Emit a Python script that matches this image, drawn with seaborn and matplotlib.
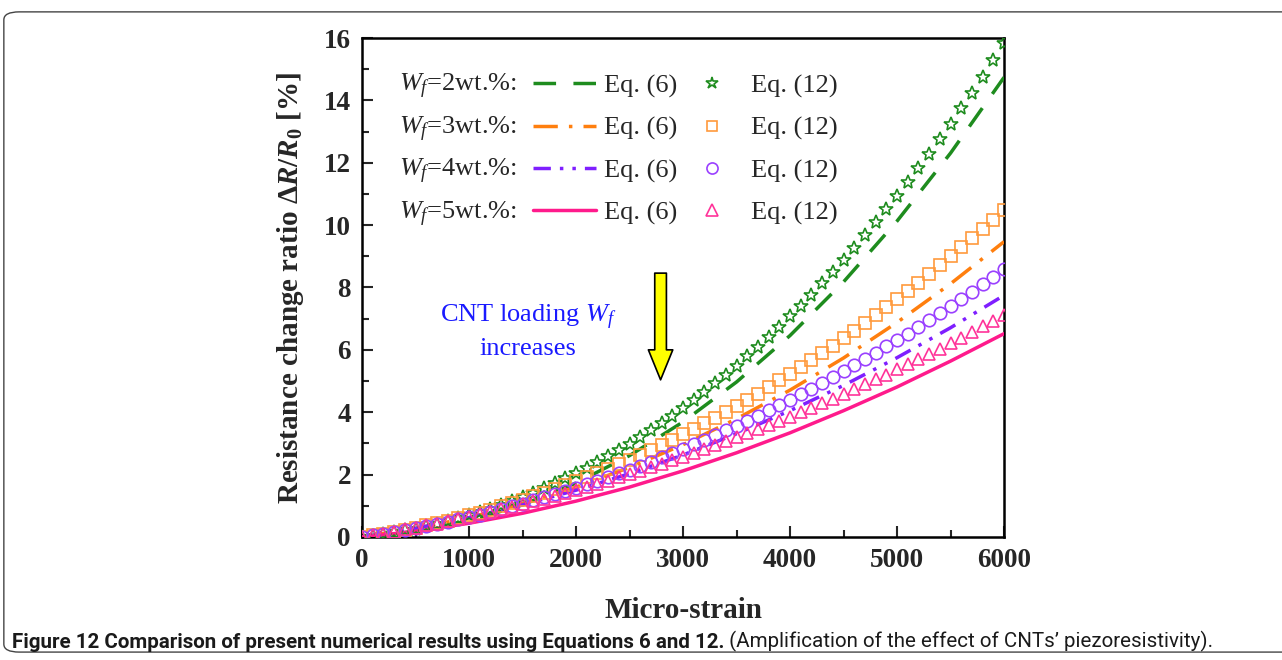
import numpy as np
import pandas as pd
import seaborn as sns
import matplotlib.pyplot as plt
from matplotlib.lines import Line2D
from matplotlib.patches import FancyBboxPatch

# strain axis (micro-strain)
strain_mk = list(range(0, 6001, 100))    # marker positions, Eq. (12)
strain_ln = list(range(0, 6001, 500))    # line points, Eq. (6)

# Eq. (6) curves, read at every 500 micro-strain
eq6_w2 = [0, 0.18, 0.52, 1.03, 1.73, 2.61, 3.69, 4.97, 6.46, 8.18, 10.13, 12.31, 14.74]
eq6_w3 = [0, 0.27, 0.62, 1.07, 1.60, 2.23, 2.96, 3.79, 4.71, 5.74, 6.88, 8.12, 9.47]
eq6_w4 = [0, 0.28, 0.62, 1.03, 1.50, 2.03, 2.63, 3.31, 4.05, 4.86, 5.75, 6.71, 7.75]
eq6_w5 = [0, 0.18, 0.44, 0.76, 1.15, 1.60, 2.12, 2.70, 3.34, 4.05, 4.81, 5.64, 6.52]

# Eq. (12) points, read at every 100 micro-strain
eq12_w2 = [0, 0.04, 0.09, 0.15, 0.21, 0.27, 0.34, 0.42, 0.51, 0.60,
           0.70, 0.80, 0.91, 1.03, 1.15, 1.28, 1.42, 1.57, 1.72, 1.88,
           2.04, 2.22, 2.40, 2.59, 2.79, 2.99, 3.21, 3.43, 3.66, 3.89,
           4.14, 4.39, 4.66, 4.93, 5.21, 5.49, 5.79, 6.10, 6.41, 6.74,
           7.07, 7.42, 7.77, 8.13, 8.50, 8.88, 9.27, 9.67, 10.09, 10.51,
           10.94, 11.38, 11.83, 12.29, 12.77, 13.25, 13.74, 14.25, 14.76, 15.29,
           15.83]
eq12_w3 = [0, 0.05, 0.11, 0.17, 0.23, 0.30, 0.37, 0.44, 0.52, 0.61,
           0.69, 0.78, 0.88, 0.98, 1.08, 1.19, 1.30, 1.41, 1.53, 1.66,
           1.78, 1.92, 2.05, 2.19, 2.34, 2.48, 2.64, 2.79, 2.96, 3.12,
           3.29, 3.47, 3.64, 3.83, 4.01, 4.21, 4.40, 4.60, 4.81, 5.02,
           5.23, 5.45, 5.67, 5.90, 6.13, 6.37, 6.61, 6.86, 7.11, 7.36,
           7.63, 7.89, 8.16, 8.43, 8.71, 9.00, 9.29, 9.58, 9.88, 10.18,
           10.49]
eq12_w4 = [0, 0.05, 0.11, 0.16, 0.22, 0.29, 0.35, 0.42, 0.49, 0.57,
           0.64, 0.72, 0.81, 0.89, 0.98, 1.07, 1.17, 1.27, 1.37, 1.47,
           1.58, 1.69, 1.80, 1.92, 2.04, 2.16, 2.29, 2.42, 2.55, 2.69,
           2.83, 2.97, 3.12, 3.26, 3.42, 3.57, 3.73, 3.89, 4.06, 4.23,
           4.40, 4.58, 4.75, 4.94, 5.12, 5.31, 5.51, 5.70, 5.90, 6.11,
           6.31, 6.52, 6.74, 6.95, 7.18, 7.40, 7.63, 7.86, 8.10, 8.34,
           8.58]
eq12_w5 = [0, 0.06, 0.11, 0.17, 0.24, 0.30, 0.37, 0.43, 0.50, 0.58,
           0.65, 0.73, 0.81, 0.89, 0.97, 1.05, 1.14, 1.23, 1.32, 1.41,
           1.51, 1.61, 1.70, 1.81, 1.91, 2.02, 2.12, 2.23, 2.35, 2.46,
           2.58, 2.70, 2.82, 2.94, 3.07, 3.19, 3.32, 3.45, 3.59, 3.73,
           3.86, 4.00, 4.15, 4.29, 4.44, 4.59, 4.74, 4.90, 5.05, 5.21,
           5.38, 5.54, 5.70, 5.87, 6.04, 6.22, 6.39, 6.57, 6.75, 6.93,
           7.12]

wt_labels = ["2wt.%", "3wt.%", "4wt.%", "5wt.%"]

sns.set_theme(style="ticks")
plt.rcParams['font.family'] = ['Liberation Serif', 'DejaVu Serif']
plt.rcParams['mathtext.fontset'] = 'custom'
plt.rcParams['mathtext.rm'] = 'Liberation Serif'
plt.rcParams['mathtext.it'] = 'Liberation Serif:italic'
plt.rcParams['mathtext.bf'] = 'Liberation Serif:bold'
plt.rcParams['mathtext.bfit'] = 'Liberation Serif:bold:italic'

fig = plt.figure(figsize=(12.82, 6.6), dpi=100)
ax = fig.add_axes([0.2824, 0.1864, 0.5008, 0.756])

line_cols = ['#1e8c1e', '#ff7f0e', '#7f1fff', '#ff1a8c']
mark_cols = ['#1e8c1e', '#ff9a3c', '#9a40ff', '#ff3399']
line_ls = [(0, (6.5, 5)), (0, (7, 3.2, 1, 3.2)), (0, (5, 2.6, 1, 2.6, 1, 2.6)), '-']
marks = ['*', 's', 'o', '^']
msizes = [10, 8, 9, 9]
eq6 = [eq6_w2, eq6_w3, eq6_w4, eq6_w5]
eq12 = [eq12_w2, eq12_w3, eq12_w4, eq12_w5]

for i in range(4):
    sns.lineplot(x=strain_ln, y=eq6[i], ax=ax, color=line_cols[i], linestyle=line_ls[i],
                 linewidth=2.5, zorder=3)
    ax.plot(strain_mk, eq12[i], linestyle='none', marker=marks[i], markersize=msizes[i],
            markerfacecolor='none', markeredgecolor=mark_cols[i], markeredgewidth=1.2, zorder=4)

ax.set_xlim(0, 6000)
ax.set_ylim(0, 16)
ax.set_xticks(range(0, 6001, 1000))
ax.set_xticks(range(500, 6000, 1000), minor=True)
ax.set_yticks(range(0, 17, 2))
ax.set_yticks(range(1, 16, 2), minor=True)
ax.tick_params(which='both', direction='in', width=1.5, top=False, right=False)
ax.tick_params(which='major', length=8, labelsize=19.5, pad=8)
ax.tick_params(which='minor', length=5)
for lab in ax.get_xticklabels() + ax.get_yticklabels():
    lab.set_fontweight('bold')
for sp in ax.spines.values():
    sp.set_linewidth(1.8)
    sp.set_color('black')
    sp.set_visible(True)

ax.set_xlabel("Micro-strain", fontsize=21, fontweight='bold', labelpad=17)
ax.set_ylabel(r"Resistance change ratio $\mathbf{\Delta}\mathbfit{R}\mathbf{/}\mathbfit{R}_{\mathbf{0}}$ [%]",
              fontsize=21, fontweight='bold', labelpad=13)

# legend: Eq. (6) lines and Eq. (12) markers, W_f labels placed in front of each row
lh = [Line2D([], [], color=line_cols[i], linestyle=line_ls[i], linewidth=2.5) for i in range(4)]
mh = [Line2D([], [], linestyle='none', marker=marks[i], markersize=msizes[i] - 1,
             markerfacecolor='none', markeredgecolor=mark_cols[i], markeredgewidth=1.2)
      for i in range(4)]
leg = ax.legend(lh + mh, ["Eq. (6)"] * 4 + ["Eq. (12)"] * 4, ncol=2, loc='upper left',
                bbox_to_anchor=(0.2664, 0.928), frameon=False, fontsize=19,
                handlelength=2.4, handletextpad=0.3, columnspacing=0.1,
                labelspacing=0.7, borderpad=0, borderaxespad=0)

ax.text(1554, 6.6, "CNT loading $W_f$\nincreases", color='#1a1aff', fontsize=19,
        ha='center', va='center', linespacing=1.35)
ax.annotate('', xy=(2790, 4.95), xytext=(2790, 8.55),
            arrowprops=dict(arrowstyle='simple,head_length=1.08,head_width=0.88,tail_width=0.42',
                            mutation_scale=20, fc='#ffff00', ec='black', lw=1.2))

# caption and frame
cap_font = ['Roboto', 'DejaVu Sans']
t1 = fig.text(0.009, 0.018, "Figure 12 Comparison of present numerical results using Equations 6 and 12.",
              fontsize=14.8, fontweight='bold', family=cap_font, color='#1a1a1a', va='baseline')
ax.annotate(" (Amplification of the effect of CNTs\u2019 piezoresistivity).", xy=(1, 0), xycoords=t1,
            va='bottom', ha='left', fontsize=14.8, family=cap_font,
            color='#1a1a1a', annotation_clip=False)
frame = FancyBboxPatch((0.003, 0.012), 1.02, 0.97, boxstyle='round,pad=0,rounding_size=0.012',
                       transform=fig.transFigure, fill=False, ec='#444444', lw=1.0)
fig.patches.append(frame)

# place the W_f row labels once the legend rows are laid out
fig.canvas.draw()
W, H = fig.bbox.width, fig.bbox.height
for i, txt in enumerate(leg.get_texts()[:4]):
    bb = txt.get_window_extent()
    fig.text((bb.x0 - 87) / W, (bb.y0 + 6) / H, r"$W_f$=" + wt_labels[i] + ":",
             ha='right', va='baseline', fontsize=19)

fig.savefig("out.png", dpi=100)
